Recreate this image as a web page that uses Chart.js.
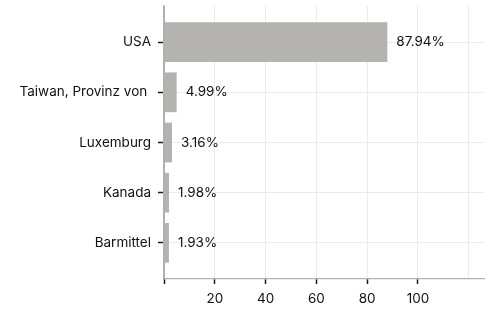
<!DOCTYPE html>
<html>
<head>
<meta charset="utf-8">
<script src="https://cdn.jsdelivr.net/npm/chart.js@4"></script>
<style>
  html, body { margin: 0; padding: 0; background: #fff; }
  #wrap { width: 489px; height: 309px; }
</style>
</head>
<body>
<div id="wrap"><canvas id="graph"></canvas></div>
<script>
// Chart data
var countries = ['USA', 'Taiwan, Provinz von ', 'Luxemburg', 'Kanada', 'Barmittel'];
var shares = [87.94, 4.99, 3.16, 1.98, 1.93];
var xTicks = [0, 20, 40, 60, 80, 100, 120];
var xTickLabels = ['', '20', '40', '60', '80', '100', ''];

Chart.defaults.font.family = 'Inter, "Noto Sans", sans-serif';
Chart.defaults.font.size = 13.5;
Chart.defaults.color = '#111';

var points = shares.map(function (v, i) { return { x: v, y: i }; });

// Labels at the end of each bar
var barLabels = {
    id: 'barLabels',
    afterDatasetsDraw: function (chart) {
        var ctx = chart.ctx;
        var meta = chart.getDatasetMeta(0);
        ctx.save();
        ctx.font = '13.5px Inter, "Noto Sans", sans-serif';
        ctx.fillStyle = '#111';
        ctx.textAlign = 'left';
        ctx.textBaseline = 'middle';
        meta.data.forEach(function (bar, i) {
            ctx.fillText(shares[i].toFixed(2) + '%', bar.x + 9, bar.y);
        });
        ctx.restore();
    }
};

var chart = new Chart(document.getElementById('graph'), {
    type: 'bar',
    data: {
        datasets: [{
            data: points,
            backgroundColor: 'rgb(180, 179, 175)',
            borderWidth: 0,
            barPercentage: 0.88,
            categoryPercentage: 0.9
        }]
    },
    options: {
        indexAxis: 'y',
        responsive: true,
        maintainAspectRatio: false,
        animation: false,
        layout: { padding: { top: 6, right: 5, left: 0, bottom: 0 } },
        plugins: {
            legend: { display: false },
            tooltip: { enabled: false }
        },
        scales: {
            x: {
                type: 'linear',
                min: 0,
                max: 126,
                afterBuildTicks: function (scale) {
                    scale.ticks = xTicks.map(function (v) { return { value: v }; });
                },
                afterFit: function (scale) {
                    scale.height = 30;
                    scale.paddingLeft = 0;
                    scale.paddingRight = 0;
                },
                ticks: {
                    padding: 7,
                    maxRotation: 0,
                    color: '#111',
                    callback: function (value) {
                        var k = xTicks.indexOf(value);
                        return k >= 0 ? xTickLabels[k] : '';
                    }
                },
                grid: {
                    color: function (c) { return c.tick && c.tick.value === 0 ? '#b0b0b0' : '#ebebeb'; },
                    lineWidth: 1,
                    tickLength: 5,
                    tickWidth: 1.5,
                    tickColor: function (c) { return c.tick && c.tick.value === 120 ? 'rgba(0,0,0,0)' : '#1a1a1a'; }
                },
                border: { color: '#b0b0b0', width: 1.2 }
            },
            y: {
                type: 'linear',
                reverse: true,
                offset: false,
                min: -0.72,
                max: 4.72,
                afterBuildTicks: function (scale) {
                    scale.ticks = countries.map(function (c, i) { return { value: i }; });
                },
                afterFit: function (scale) {
                    scale.width = 164;
                    scale.paddingTop = 0;
                    scale.paddingBottom = 0;
                },
                ticks: {
                    padding: 7,
                    color: '#111',
                    callback: function (value) { return countries[value]; }
                },
                grid: {
                    offset: false,
                    color: '#ebebeb',
                    lineWidth: 1,
                    tickLength: 6,
                    tickWidth: 1.5,
                    tickColor: '#1a1a1a'
                },
                border: { color: '#b0b0b0', width: 1.2 }
            }
        }
    },
    plugins: [barLabels]
});
</script>
</body>
</html>
